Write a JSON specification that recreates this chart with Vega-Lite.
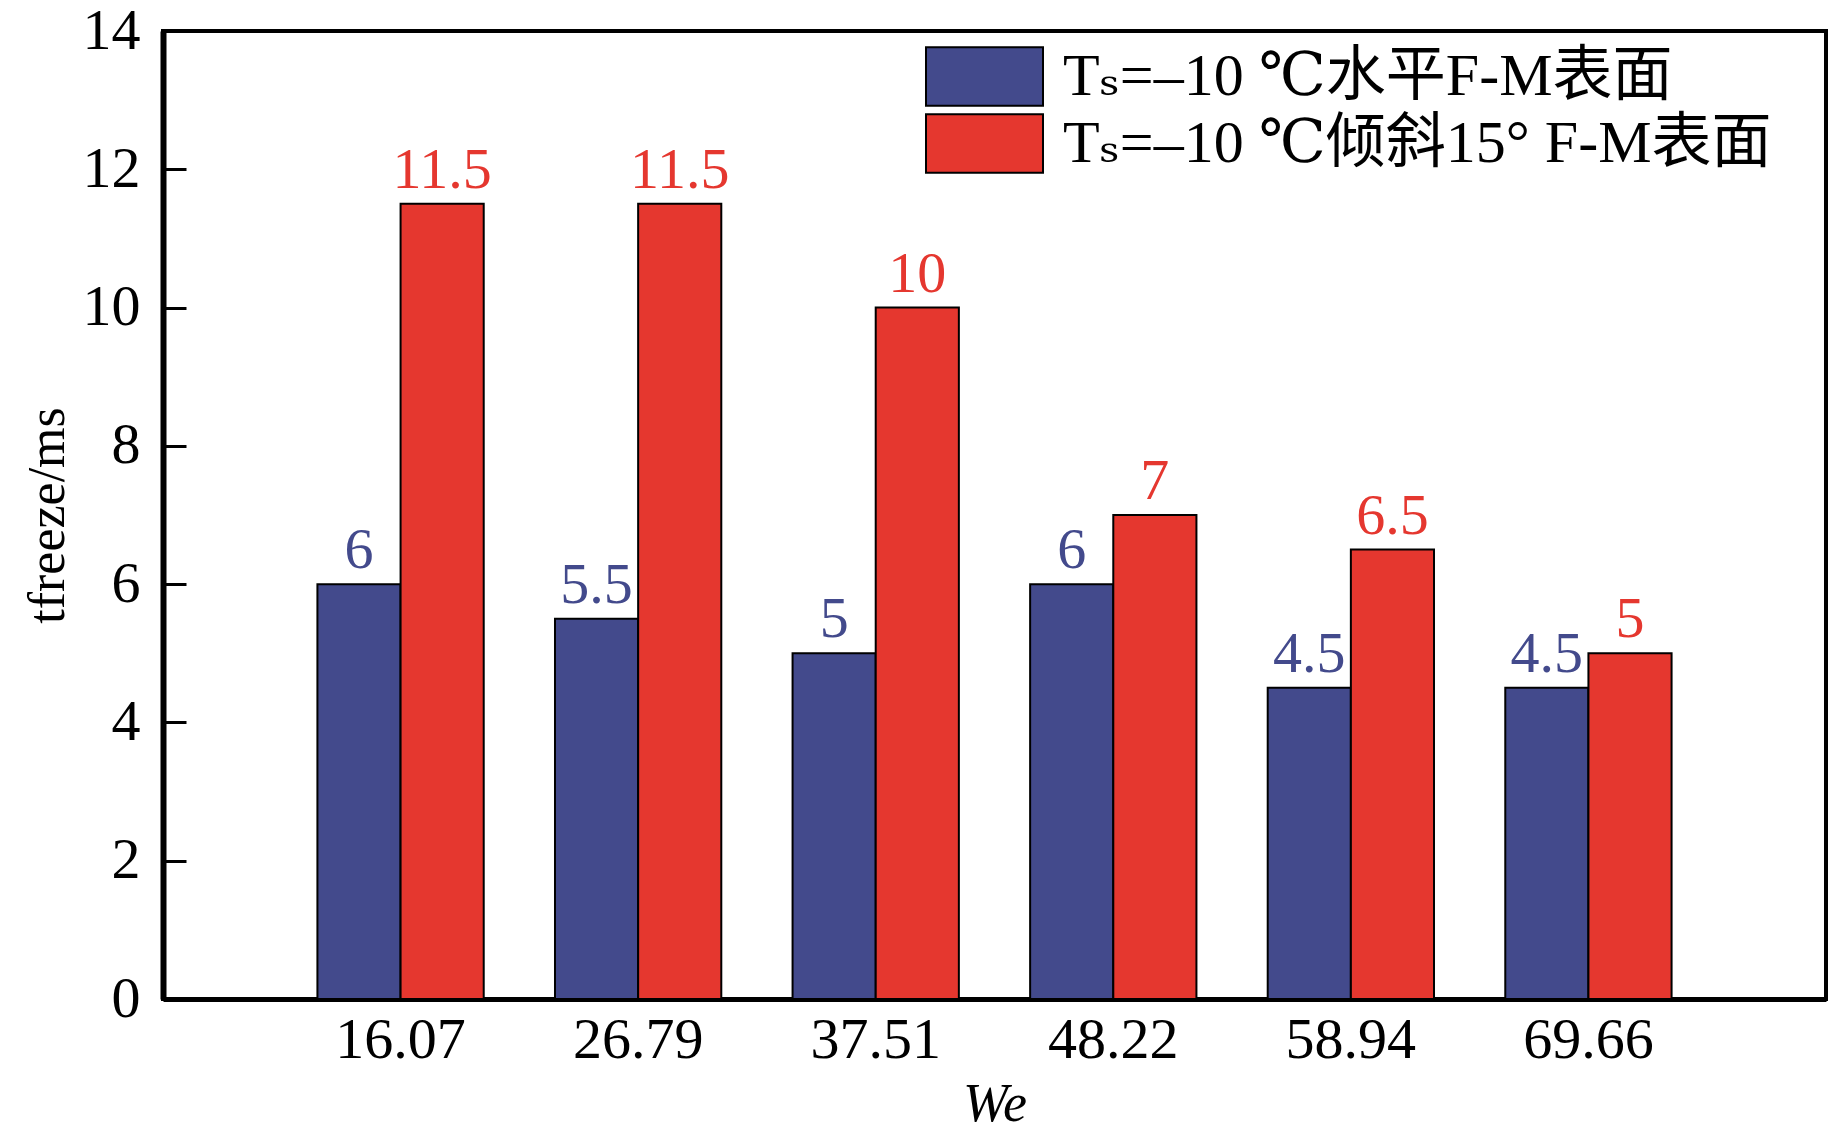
{
  "$schema": "https://vega.github.io/schema/vega-lite/v6.json",
  "autosize": "none",
  "padding": {"left": 163, "top": 31, "right": 4, "bottom": 141},
  "width": 1663,
  "height": 968,
  "background": "white",
  "data": {
    "values": [
      {"We": "16.07", "series": "Tₛ=–10 ℃水平F-M表面", "t": 6},
      {"We": "16.07", "series": "Tₛ=–10 ℃倾斜15° F-M表面", "t": 11.5},
      {"We": "26.79", "series": "Tₛ=–10 ℃水平F-M表面", "t": 5.5},
      {"We": "26.79", "series": "Tₛ=–10 ℃倾斜15° F-M表面", "t": 11.5},
      {"We": "37.51", "series": "Tₛ=–10 ℃水平F-M表面", "t": 5},
      {"We": "37.51", "series": "Tₛ=–10 ℃倾斜15° F-M表面", "t": 10},
      {"We": "48.22", "series": "Tₛ=–10 ℃水平F-M表面", "t": 6},
      {"We": "48.22", "series": "Tₛ=–10 ℃倾斜15° F-M表面", "t": 7},
      {"We": "58.94", "series": "Tₛ=–10 ℃水平F-M表面", "t": 4.5},
      {"We": "58.94", "series": "Tₛ=–10 ℃倾斜15° F-M表面", "t": 6.5},
      {"We": "69.66", "series": "Tₛ=–10 ℃水平F-M表面", "t": 4.5},
      {"We": "69.66", "series": "Tₛ=–10 ℃倾斜15° F-M表面", "t": 5}
    ]
  },
  "encoding": {
    "x": {
      "field": "We",
      "type": "nominal",
      "sort": null,
      "scale": {"paddingInner": 0.3, "paddingOuter": 0.65},
      "axis": {
        "title": "We",
        "titleFontStyle": "italic",
        "titleFontWeight": "normal",
        "titleFontSize": 54,
        "titlePadding": 8,
        "labelAngle": 0,
        "labelFontSize": 58,
        "labelPadding": 12,
        "ticks": false,
        "domainWidth": 5
      }
    },
    "xOffset": {
      "field": "series",
      "type": "nominal",
      "sort": null,
      "scale": {"paddingInner": 0, "paddingOuter": 0}
    },
    "y": {
      "field": "t",
      "type": "quantitative",
      "scale": {"domain": [0, 14], "nice": false},
      "axis": {
        "title": "tfreeze/ms",
        "titleFontWeight": "normal",
        "titleFontSize": 52,
        "titlePadding": 8,
        "values": [0, 2, 4, 6, 8, 10, 12, 14],
        "labelFontSize": 58,
        "tickSize": -23,
        "tickWidth": 3,
        "labelPadding": 46,
        "domainWidth": 6,
        "grid": false
      }
    }
  },
  "layer": [
    {
      "mark": {"type": "bar", "stroke": "black", "strokeWidth": 2},
      "encoding": {
        "color": {
          "field": "series",
          "type": "nominal",
          "sort": null,
          "scale": {
            "domain": ["Tₛ=–10 ℃水平F-M表面", "Tₛ=–10 ℃倾斜15° F-M表面"],
            "range": ["#434A8C", "#E5372F"]
          },
          "legend": {
            "title": null,
            "orient": "none",
            "legendX": 791,
            "legendY": 15,
            "padding": 0,
            "symbolType": "M-2,-1H2V1H-2Z",
            "symbolSize": 3422,
            "symbolStrokeColor": "black",
            "symbolStrokeWidth": 2,
            "symbolOpacity": 1,
            "labelFontSize": 60,
            "labelOffset": 48,
            "labelLimit": 1000,
            "rowPadding": 0
          }
        }
      }
    },
    {
      "mark": {"type": "text", "baseline": "bottom", "dy": -4, "fontSize": 58, "font": "Times New Roman, Liberation Serif, serif"},
      "encoding": {
        "text": {"field": "t", "type": "quantitative"},
        "color": {"field": "series", "type": "nominal", "sort": null, "legend": null}
      }
    }
  ],
  "config": {
    "font": "Times New Roman, Liberation Serif, DejaVu Serif, Noto Sans CJK SC",
    "view": {"stroke": "black", "strokeWidth": 4},
    "axis": {
      "domainColor": "black",
      "tickColor": "black",
      "labelColor": "black",
      "titleColor": "black",
      "labelFont": "Times New Roman, Liberation Serif, serif",
      "titleFont": "Times New Roman, Liberation Serif, serif"
    },
    "legend": {
      "labelFont": "Times New Roman, Liberation Serif, DejaVu Serif, Noto Sans CJK SC",
      "labelColor": "black"
    }
  }
}
